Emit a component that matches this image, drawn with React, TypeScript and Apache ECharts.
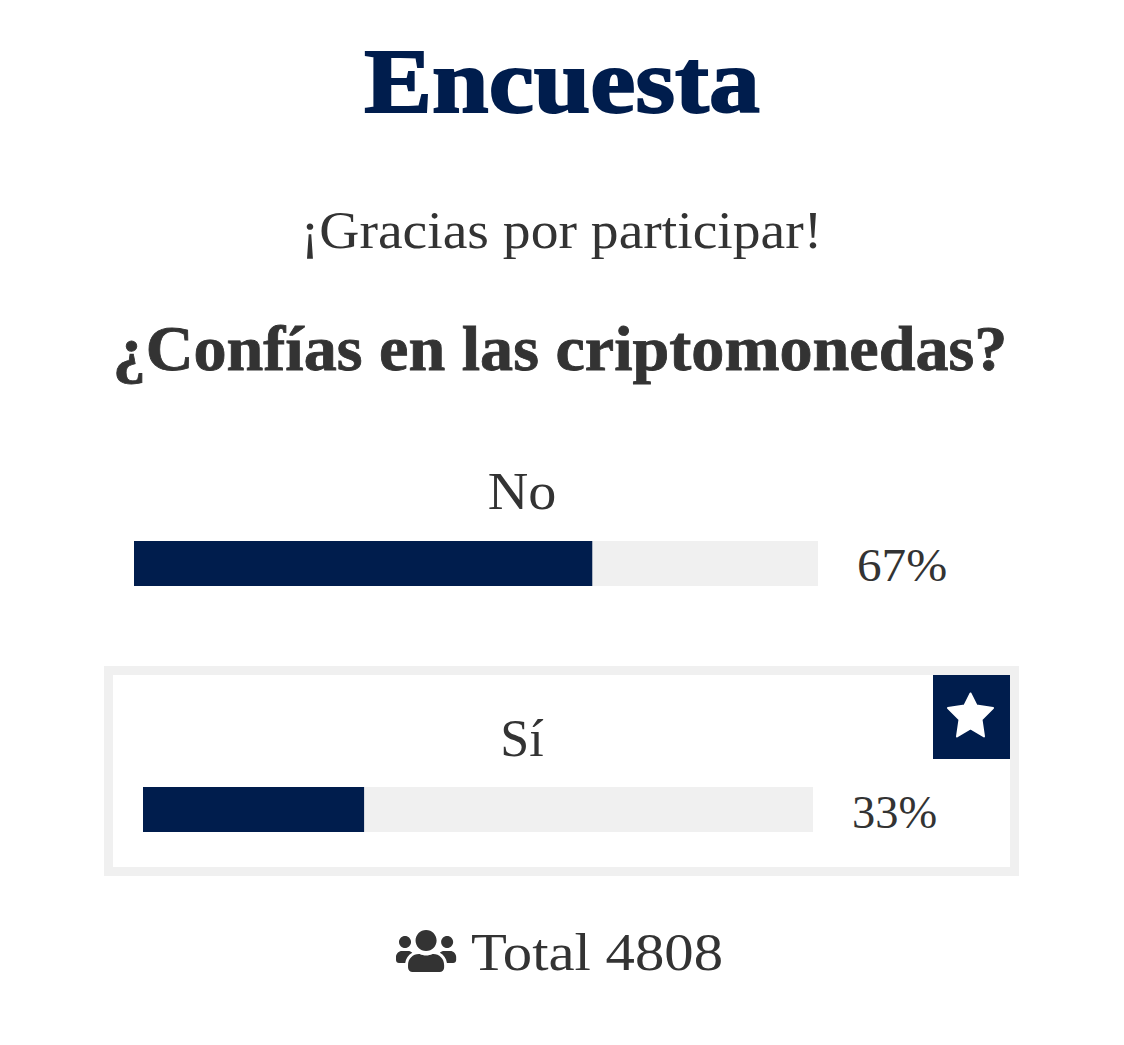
import React, { useEffect, useRef } from "react";
import * as echarts from "echarts";

const heading = "Encuesta";
const thanks = "¡Gracias por participar!";
const question = "¿Confías en las criptomonedas?";
const categories = ["No", "Sí"];
const values = [67, 33];
const totalLabel = "Total 4808";

const NAVY = "#001d4d";
const TEXT = "#333333";
const TRACK = "#f0f0f0";
const SERIF = '"Liberation Serif", "DejaVu Serif", serif';

const USERS =
  "M96 224c35.3 0 64-28.7 64-64s-28.7-64-64-64-64 28.7-64 64 28.7 64 64 64zm448 0c35.3 0 64-28.7 64-64s-28.7-64-64-64-64 28.7-64 64 28.7 64 64 64zm32 32h-64c-17.6 0-33.5 7.1-45.1 18.6 40.3 22.1 68.9 62 75.1 109.4h66c17.7 0 32-14.3 32-32v-32c0-35.3-28.7-64-64-64zm-256 0c61.9 0 112-50.1 112-112S381.9 32 320 32 208 82.1 208 144s50.1 112 112 112zm76.8 32h-8.3c-20.8 10-43.9 16-68.5 16s-47.6-6-68.5-16h-8.3C179.6 288 128 339.6 128 403.2V432c0 26.5 21.5 48 48 48h288c26.5 0 48-21.5 48-48v-28.8c0-63.6-51.6-115.2-115.2-115.2zm-223.7-13.4C161.5 263.1 145.6 256 128 256H64c-35.3 0-64 28.7-64 64v32c0 17.7 14.3 32 32 32h65.9c6.3-47.4 34.9-87.3 75.2-109.4z";

echarts.graphic.registerShape("usersIcon", echarts.graphic.extendPath(USERS, {}) as any);

const text = (x: number, y: number, t: string, size: number, stretch = 1, color = TEXT, weight: any = "normal", align = "center", strokeW = 0) => ({
  type: "text",
  x,
  y,
  scaleX: stretch,
  silent: true,
  style: {
    text: t, fontFamily: SERIF, fontSize: size, fontWeight: weight, fill: color, align, verticalAlign: "middle",
    ...(strokeW ? { stroke: color, lineWidth: strokeW } : {}),
  },
});

export default function App() {
  const ref = useRef<HTMLDivElement>(null);
  useEffect(() => {
    const chart = echarts.init(ref.current!, null, { renderer: "svg" });
    const grids = [
      { left: 134, top: 541, width: 684, height: 45 },
      { left: 143, top: 787, width: 670, height: 45 },
    ];
    chart.setOption({
      animation: false,
      backgroundColor: "#ffffff",
      grid: grids,
      xAxis: grids.map((_, i) => ({
        type: "value", gridIndex: i, min: 0, max: 100, show: false,
      })),
      yAxis: grids.map((_, i) => ({
        type: "category", gridIndex: i, data: [categories[i]], show: false,
      })),
      series: values.map((v, i) => ({
        type: "bar",
        xAxisIndex: i,
        yAxisIndex: i,
        data: [v],
        barWidth: 45,
        showBackground: true,
        backgroundStyle: { color: TRACK },
        itemStyle: { color: NAVY },
      })),
      graphic: [
        { type: "rect", shape: { x: 108.5, y: 670.5, width: 906, height: 201 }, style: { fill: "none", stroke: "#f0f0f0", lineWidth: 9 }, silent: true, z: -1 },
        { type: "rect", shape: { x: 933, y: 675, width: 77, height: 84 }, style: { fill: NAVY }, silent: true },
        {
          type: "polygon",
          shape: {
            points: [
              [970.5, 693.5], [976.5, 705.5], [993, 708], [981.5, 719.5], [984, 736.5],
              [970.5, 728.5], [957, 736.5], [959.5, 719.5], [948, 708], [964.5, 705.5],
            ],
          },
          style: { fill: "#ffffff", stroke: "#ffffff", lineWidth: 2, lineJoin: "round" },
          silent: true,
        },
        { type: "usersIcon", x: 396, y: 927, scaleX: 60 / 640, scaleY: 60 / 640, style: { fill: TEXT }, silent: true },
        text(562, 82, heading, 90, 1.13, NAVY, "bold", "center", 2),
        text(561.5, 230, thanks, 53, 1.049),
        text(560, 349, question, 63, 1.05, TEXT, "bold", "center", 0.8),
        text(522, 492, categories[0], 52, 1.08),
        text(522, 738, categories[1], 52),
        text(857, 566, values[0] + "%", 46, 1.07, TEXT, "normal", "left"),
        text(852, 813, values[1] + "%", 46, 1.01, TEXT, "normal", "left"),
        text(471, 953, totalLabel, 52, 1.13, TEXT, "normal", "left"),
      ],
    });
    return () => chart.dispose();
  }, []);
  return <div ref={ref} style={{ width: 1124, height: 1045, position: "absolute", left: 0, top: 0 }} />;
}
